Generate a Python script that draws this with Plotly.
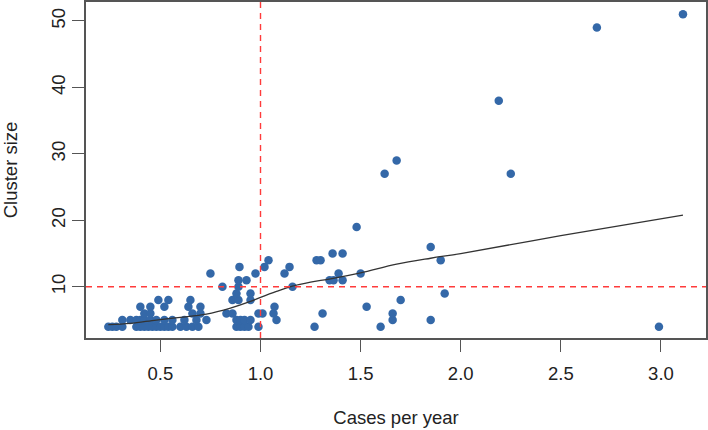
import plotly.graph_objects as go

# Observed clusters: cases per year (x) and cluster size (y)
pts_by_size = {
    4: [0.24, 0.26, 0.28, 0.31, 0.38, 0.40, 0.42, 0.44, 0.46, 0.48, 0.50, 0.52, 0.54,
        0.56, 0.60, 0.63, 0.66, 0.69, 0.88, 0.90, 0.92, 0.94, 0.99, 1.27, 1.60, 2.99],
    5: [0.31, 0.35, 0.38, 0.40, 0.42, 0.45, 0.48, 0.52, 0.56, 0.62, 0.68, 0.73, 0.88,
        0.90, 0.92, 0.95, 1.08, 1.66, 1.85],
    6: [0.42, 0.45, 0.66, 0.70, 0.83, 0.86, 0.99, 1.01, 1.065, 1.31, 1.66],
    7: [0.40, 0.45, 0.52, 0.64, 0.70, 1.07, 1.53],
    8: [0.49, 0.54, 0.65, 0.86, 0.89, 0.95, 1.70],
    9: [0.88, 0.95, 1.92],
    10: [0.81, 0.89, 1.16],
    11: [0.89, 0.93, 1.345, 1.365, 1.41],
    12: [0.75, 0.975, 1.12, 1.39, 1.50],
    13: [0.895, 1.02, 1.145],
    14: [1.04, 1.28, 1.30, 1.90],
    15: [1.36, 1.41],
    16: [1.85],
    19: [1.48],
    27: [1.62, 2.25],
    29: [1.68],
    38: [2.19],
    49: [2.68],
    51: [3.11],
}
cases_per_year = []
cluster_size = []
for size, xs in pts_by_size.items():
    for xv in xs:
        cases_per_year.append(xv)
        cluster_size.append(size)

# Smoothed trend (lowess-like)
smooth_x = [0.24, 0.35, 0.48, 0.60, 0.73, 0.85, 0.95, 1.00, 1.08, 1.16, 1.25, 1.35,
            1.50, 1.68, 1.85, 2.00, 2.50, 3.11]
smooth_y = [4.3, 4.5, 5.0, 5.4, 5.9, 6.8, 7.8, 8.4, 9.3, 10.1, 10.7, 11.2,
            12.1, 13.4, 14.3, 15.0, 17.7, 20.8]

x_threshold = 1.0
y_threshold = 10

x_ticks = [0.5, 1.0, 1.5, 2.0, 2.5, 3.0]
x_tick_labels = ["0.5", "1.0", "1.5", "2.0", "2.5", "3.0"]
y_ticks = [10, 20, 30, 40, 50]
y_tick_labels = ["10", "20", "30", "40", "50"]

font_family = "Liberation Sans, Arial, sans-serif"
FS = 18.5

fig = go.Figure()
fig.add_trace(go.Scatter(
    x=cases_per_year, y=cluster_size, mode="markers",
    marker=dict(color="#3468A8", size=8.5, line=dict(width=0)),
    showlegend=False, hoverinfo="x+y", cliponaxis=False,
))
fig.add_trace(go.Scatter(
    x=smooth_x, y=smooth_y, mode="lines", line_shape="spline",
    line=dict(color="#333333", width=1.3),
    showlegend=False, hoverinfo="skip",
))

fig.add_shape(type="line", xref="x", yref="paper", x0=x_threshold, x1=x_threshold,
              y0=0, y1=1, line=dict(color="#FF3B3B", width=1.4, dash="6px,5px"))
fig.add_shape(type="line", xref="paper", yref="y", x0=0, x1=1,
              y0=y_threshold, y1=y_threshold,
              line=dict(color="#FF3B3B", width=1.4, dash="6px,5px"))

axis_common = dict(
    showgrid=False, zeroline=False, showline=True, mirror=True,
    linecolor="#555555", linewidth=1.5, automargin=False,
    ticks="outside", ticklen=12, tickwidth=1.3, tickcolor="#555555",
    tickfont=dict(family=font_family, size=FS, color="#222222"),
)

fig.update_layout(
    width=708, height=430,
    margin=dict(l=86, r=2, t=2, b=92),
    paper_bgcolor="white", plot_bgcolor="white",
    font=dict(family=font_family, size=FS, color="#222222"),
    xaxis=dict(
        range=[0.1285, 3.225], tickvals=x_ticks, ticktext=x_tick_labels,
        ticklabelstandoff=6,
        title=dict(text="Cases per year", font=dict(size=FS), standoff=28),
        **axis_common,
    ),
    yaxis=dict(
        range=[2.3, 52.85], tickvals=y_ticks, ticktext=y_tick_labels,
        tickangle=-90, ticklabelstandoff=0,
        title=dict(text="Cluster size", font=dict(size=FS), standoff=27),
        **axis_common,
    ),
)

fig.write_html("out.html", config={"displayModeBar": False},
               post_script="document.body.style.margin='0';")
